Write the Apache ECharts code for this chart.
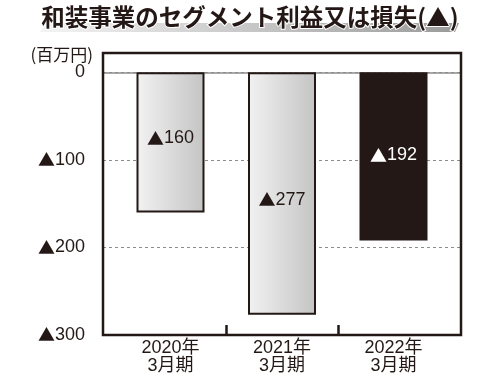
<!DOCTYPE html>
<html>
<head>
<meta charset="utf-8">
<script src="https://cdn.jsdelivr.net/npm/echarts@6/dist/echarts.min.js"></script>
<style>
html,body{margin:0;padding:0;background:#fff;}
#chart{width:500px;height:375px;}
</style>
</head>
<body>
<div id="chart"></div>
<script>
// ---- data ----
var titleText = '和装事業のセグメント利益又は損失(▲)';
var unitText = '(百万円)';
var categories = ['2020年\n3月期', '2021年\n3月期', '2022年\n3月期'];
var values = [-160, -277, -192];
var yMin = -300;
var yMax = 22;
var yInterval = 100;

// ---- styles ----
var ink = '#231815';
var font = '"Noto Sans CJK JP", "Noto Sans", sans-serif';
var numFont = '"Liberation Sans", "Noto Sans CJK JP", sans-serif';
var lightBar = {
  color: new echarts.graphic.LinearGradient(0, 0, 1, 0, [
    {offset: 0, color: '#f2f2f2'},
    {offset: 1, color: '#c4c4c4'}
  ]),
  borderColor: ink,
  borderWidth: 2
};
var darkBar = { color: ink, borderColor: ink, borderWidth: 0 };
var barStyles = [lightBar, lightBar, darkBar];
var labelColors = [ink, ink, '#ffffff'];
var labelOffsets = [[0, -4], [0, 6], [0, -1]];

function fmtRich(v) { return v === 0 ? '0' : '{t|▲}' + Math.abs(v); }
var triRich = { t: { fontFamily: font, fontSize: 17 } };

var barData = values.map(function (v, i) {
  return {
    value: v,
    itemStyle: barStyles[i],
    label: {
      color: labelColors[i], offset: labelOffsets[i],
      rich: { t: { fontFamily: font, fontSize: 17, color: labelColors[i] } }
    }
  };
});

var chart = echarts.init(document.getElementById('chart'), null, {renderer: 'canvas'});
chart.setOption({
  backgroundColor: '#ffffff',
  animation: false,
  textStyle: { fontFamily: font },
  graphic: [
    {
      type: 'polygon', z: 0,
      shape: { points: [[40, 32], [45, 23], [459, 23], [455, 32]] },
      style: {
        fill: new echarts.graphic.LinearGradient(0, 0, 1, 0, [
          {offset: 0, color: '#f4f4f4'},
          {offset: 1, color: '#9a9a9a'}
        ])
      }
    },
    {
      type: 'text', z: 10, left: 'center', top: 4,
      style: {
        text: titleText,
        font: 'bold 23.5px ' + font,
        fill: ink,
        stroke: '#ffffff',
        lineWidth: 2
      }
    },
    {
      type: 'text', z: 10, x: 93, y: 55,
      style: {
        text: unitText,
        font: '17px ' + font,
        fill: ink,
        align: 'right',
        verticalAlign: 'middle'
      }
    }
  ],
  grid: [
    { left: 103, right: 39, top: 53, bottom: 40, show: true, outerBoundsMode: 'none',
      borderColor: ink, borderWidth: 2.5, backgroundColor: 'transparent', z: 5 },
    { left: 114.75, width: 446, top: 53, bottom: 40, outerBoundsMode: 'none' }
  ],
  xAxis: [
    {
      gridIndex: 0, type: 'value', min: 0, max: 1,
      axisLine: { show: true, onZero: true, lineStyle: { color: '#8c8c8c', width: 1.5 } },
      axisTick: { show: false }, axisLabel: { show: false }, splitLine: { show: false }
    },
    {
      gridIndex: 1, type: 'category', data: categories.concat(['']),
      position: 'bottom',
      boundaryGap: true,
      axisLine: { show: false, onZero: false },
      axisTick: {
        show: true, inside: true, length: 10,
        interval: function (i) { return i === 1 || i === 2; },
        lineStyle: { color: ink, width: 2.5 }
      },
      axisLabel: {
        interval: 0, margin: 4, fontSize: 18, lineHeight: 18,
        color: ink, fontFamily: numFont
      },
      splitLine: { show: false }
    }
  ],
  yAxis: [
    {
      gridIndex: 0, type: 'value', min: yMin, max: yMax, interval: yInterval,
      axisLine: { show: false }, axisTick: { show: false },
      axisLabel: {
        formatter: fmtRich, rich: triRich, showMaxLabel: false, margin: 18,
        fontSize: 18, color: ink, fontFamily: numFont
      },
      splitLine: { show: true, lineStyle: { color: '#8c8c8c', width: 1, type: [3, 3] } }
    },
    {
      gridIndex: 1, type: 'value', min: yMin, max: yMax, interval: yInterval,
      show: false, splitLine: { show: false }
    }
  ],
  series: [
    {
      type: 'bar', xAxisIndex: 1, yAxisIndex: 1,
      data: barData, barWidth: 68, z: 3,
      label: {
        show: true, position: 'inside', formatter: function (p) { return fmtRich(p.value); },
        fontSize: 18, fontFamily: numFont
      }
    }
  ]
});
</script>
</body>
</html>
